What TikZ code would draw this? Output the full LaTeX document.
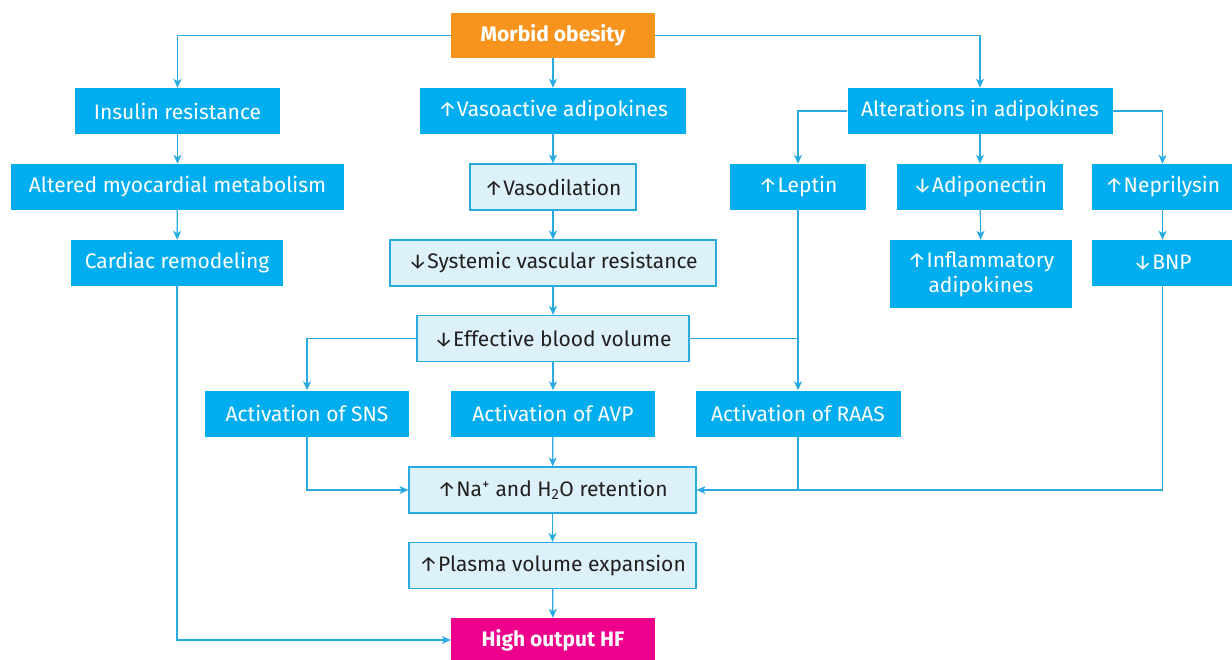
\documentclass[tikz,border=0pt]{standalone}
\usepackage{fontspec}
\setmainfont{Fira Sans}
\usetikzlibrary{arrows.meta}
\definecolor{dblue}{HTML}{00AEEF}
\definecolor{lfill}{HTML}{DDF1FB}
\definecolor{lborder}{HTML}{29ABE2}
\definecolor{lineblue}{HTML}{29ABE2}
\definecolor{orng}{HTML}{F7941D}
\definecolor{pink}{HTML}{EC008C}
\definecolor{txt}{HTML}{231F20}
\newcommand{\upar}{↑}
\newcommand{\dnar}{↓}
\begin{document}
\begin{tikzpicture}[x=1pt,y=-1pt,
  base/.style={rectangle, minimum height=46pt, inner sep=0pt, font=\fontsize{21}{25}\selectfont, align=center},
  dark/.style={base, fill=dblue, text=white},
  light/.style={base, fill=lfill, draw=lborder, line width=1.2pt, text=txt},
  topbox/.style={base, fill=orng, text=white, font=\fontsize{21}{25}\selectfont\bfseries},
  endbox/.style={base, fill=pink, text=white, font=\fontsize{21}{25}\selectfont\bfseries},
  conn/.style={draw=lineblue, line width=1.2pt},
  arr/.style={conn, -{Stealth[length=9pt,width=8pt,inset=2.5pt]}}]
\useasboundingbox (0,0) rectangle (1232,660);
% top
\node[topbox, minimum width=204pt, minimum height=45pt] (mo) at (553,35.5) {Morbid obesity};
% row 1
\node[dark, minimum width=205pt] (ins) at (177.5,111) {Insulin resistance};
\node[dark, minimum width=266pt] (vaso) at (553,111) {\upar Vasoactive adipokines};
\node[dark, minimum width=265pt] (alt) at (980,111) {Alterations in adipokines};
% row 2
\node[dark, minimum width=333pt] (amm) at (177.5,187) {Altered myocardial metabolism};
\node[light, minimum width=166pt] (vd) at (553,187) {\upar Vasodilation};
\node[dark, minimum width=136pt] (lep) at (798,187) {\upar Leptin};
\node[dark, minimum width=166pt] (adi) at (980,187) {\dnar Adiponectin};
\node[dark, minimum width=141pt] (nep) at (1162.5,187) {\upar Neprilysin};
% row 3
\node[dark, minimum width=212pt] (cr) at (177,263) {Cardiac remodeling};
\node[light, minimum width=326pt] (svr) at (553,263) {\dnar Systemic vascular resistance};
\node[dark, minimum width=182pt, minimum height=68pt] (infl) at (981,274) {\upar Inflammatory\\adipokines};
\node[dark, minimum width=141pt] (bnp) at (1162.5,263) {\dnar BNP};
% row 4
\node[light, minimum width=272pt] (ebv) at (553,338.5) {\dnar Effective blood volume};
% row 5
\node[dark, minimum width=204pt] (sns) at (307,413.5) {Activation of SNS};
\node[dark, minimum width=204pt] (avp) at (553,413.5) {Activation of AVP};
\node[dark, minimum width=205pt] (raas) at (798,413.5) {Activation of RAAS};
% row 6
\node[light, minimum width=287pt] (na) at (552.5,490) {\upar Na\textsuperscript{+} and H\textsubscript{2}O retention};
\node[light, minimum width=287pt] (pve) at (552.5,565.5) {\upar Plasma volume expansion};
\node[endbox, minimum width=204pt, minimum height=44pt] (hf) at (553,640) {High output HF};
% connectors
\draw[arr] (mo.west) -| (ins.north);
\draw[arr] (mo.east) -| (alt.north);
\draw[arr] (mo) -- (vaso);
\draw[arr] (ins) -- (amm);
\draw[arr] (amm) -- (cr);
\draw[arr] (cr.south) |- (hf.west);
\draw[arr] (vaso) -- (vd);
\draw[arr] (vd) -- (svr);
\draw[arr] (svr) -- (ebv);
\draw[arr] (ebv.west) -| (sns.north);
\draw[arr] (ebv) -- (avp);
\draw[conn] (ebv.east) -- (ebv.east -| lep.south);
\draw[arr] (lep.south) -- (raas.north);
\draw[arr] (alt.west) -| (lep.north);
\draw[arr] (alt) -- (adi);
\draw[arr] (alt.east) -| (nep.north);
\draw[arr] (adi) -- (infl);
\draw[arr] (nep) -- (bnp);
\draw[arr] (sns.south) |- (na.west);
\draw[arr] (avp) -- (na);
\draw[arr] (bnp.south) |- (na.east);
\draw[conn] (raas.south) -- (raas.south |- na.east);
\draw[arr] (na) -- (pve);
\draw[arr] (pve) -- (hf);
\end{tikzpicture}
\end{document}
